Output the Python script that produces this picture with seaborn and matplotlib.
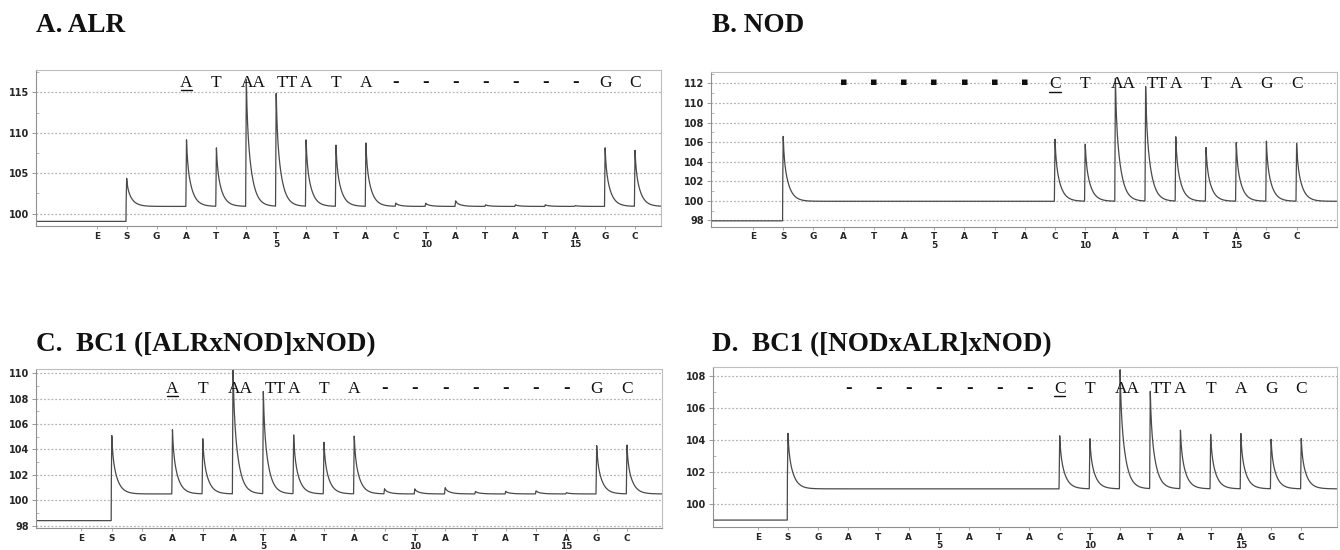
import numpy as np
import pandas as pd
import matplotlib
matplotlib.use("Agg")
import matplotlib.pyplot as plt
import matplotlib.transforms as mtransforms
from matplotlib.ticker import MultipleLocator
import seaborn as sns

# ---------------- data ----------------
dispensation_order = ["E", "S", "G", "A", "T", "A", "T", "A", "T", "A",
                      "C", "T", "A", "T", "A", "T", "A", "G", "C"]
dispensation_numbers = list(range(-1, 18))          # E=-1, S=0, G=1 ... C=17

titles = ["A. ALR", "B. NOD", "C.  BC1 ([ALRxNOD]xNOD)", "D.  BC1 ([NODxALR]xNOD)"]

# signal level before substrate (S) and after it
pre_baseline = [99.05, 97.95, 98.4, 99.0]
post_baseline = [100.9, 99.95, 100.5, 100.95]

# peak tops at dispensations S(0) .. C(17)
peaks_A = [104.4, 100.9, 109.3, 108.3, 117.0, 115.0, 109.1, 108.5, 108.8,
           101.3, 101.3, 101.6, 101.1, 101.1, 101.1, 101.0, 108.2, 107.9]
peaks_B = [106.6, 99.95, 99.95, 99.95, 99.95, 99.95, 99.95, 99.95, 99.95,
           106.4, 105.95, 112.6, 111.9, 106.6, 105.5, 106.1, 106.1, 105.95]
peaks_C = [105.1, 100.5, 105.65, 104.95, 110.6, 108.6, 105.2, 104.65, 105.1,
           100.9, 100.9, 101.0, 100.7, 100.7, 100.75, 100.6, 104.4, 104.35]
peaks_D = [104.5, 100.95, 100.95, 100.95, 100.95, 100.95, 100.95, 100.95, 100.95,
           104.35, 104.1, 108.6, 107.1, 104.65, 104.4, 104.4, 104.1, 104.1]

# sequence read above the peaks, dispensations 2 .. 17
seq_A = ["A", "T", "AA", "TT", "A", "T", "A", "-", "-", "-", "-", "-", "-", "-", "G", "C"]
seq_B = ["▪", "▪", "▪", "▪", "▪", "▪", "▪", "C", "T", "AA", "TT", "A", "T", "A", "G", "C"]
seq_C = ["A", "T", "AA", "TT", "A", "T", "A", "-", "-", "-", "-", "-", "-", "-", "G", "C"]
seq_D = ["-", "-", "-", "-", "-", "-", "-", "C", "T", "AA", "TT", "A", "T", "A", "G", "C"]
underlined = [2, 9, 2, 9]

y_ranges = [(98.48, 117.75), (97.35, 113.2), (97.8, 110.3), (98.55, 108.54)]
y_major = [5, 2, 2, 2]
y_minor = [2.5, 1, 1, 1]
x_ranges = [(-3.03, 17.87), (-2.39, 18.34), (-2.5, 18.16), (-2.48, 18.2)]

# ---------------- style ----------------
sns.set_theme(style="white")
plt.rcParams["font.family"] = ["DejaVu Sans"]

SERIF = ["Liberation Serif", "DejaVu Serif"]
LINE_COL = "#4a4a4a"
GRID_COL = "#b4b4b4"

fig = plt.figure(figsize=(13.4, 5.5), dpi=100)
rects = [[0.0269, 0.5891, 0.4664, 0.2836],
         [0.5306, 0.5878, 0.4672, 0.2818],
         [0.0269, 0.0395, 0.4672, 0.2891],
         [0.5321, 0.0413, 0.4660, 0.2909]]
title_pos = [(0.027, 0.942), (0.531, 0.942), (0.027, 0.362), (0.531, 0.362)]
letter_base = [0.893, 0.893, 0.85, 0.839]

peaks_all = [peaks_A, peaks_B, peaks_C, peaks_D]
seqs = [seq_A, seq_B, seq_C, seq_D]


def peak_shape(dx, rise=0.02):
    out = np.zeros_like(dx)
    r = (dx >= -rise) & (dx < 0)
    out[r] = (dx[r] + rise) / rise
    d = dx >= 0
    out[d] = 0.25 * np.exp(-dx[d] / 0.03) + 0.75 * np.exp(-dx[d] / 0.17)
    return out


xlabels = []
for letter, num in zip(dispensation_order, dispensation_numbers):
    if num > 0 and num % 5 == 0:
        xlabels.append(f"{letter}\n{num}")
    else:
        xlabels.append(letter)

for i in range(4):
    ax = fig.add_axes(rects[i])
    x0, x1 = x_ranges[i]
    x = np.linspace(x0, x1, 7000)
    disp_x = np.array(dispensation_numbers[1:], dtype=float)
    heights = np.array(peaks_all[i])
    b0, b1 = pre_baseline[i], post_baseline[i]
    y = np.where(x < disp_x[0] - 0.02, b0, b1).astype(float)
    for xk, hk in zip(disp_x, heights):
        y = y + (hk - b1) * peak_shape(x - xk)
    df = pd.DataFrame({"dispensation": x, "signal": y})
    sns.lineplot(data=df, x="dispensation", y="signal", ax=ax, color=LINE_COL,
                 linewidth=0.9, estimator=None, sort=False)

    ax.set_xlim(x0, x1)
    ax.set_ylim(*y_ranges[i])
    ax.set_xlabel("")
    ax.set_ylabel("")
    ax.set_xticks(dispensation_numbers)
    ax.set_xticklabels(xlabels, fontsize=6.4, fontweight="bold", linespacing=0.9)
    ax.yaxis.set_major_locator(MultipleLocator(y_major[i]))
    ax.yaxis.set_minor_locator(MultipleLocator(y_minor[i]))
    for lab in ax.get_yticklabels():
        lab.set_fontsize(7)
        lab.set_fontweight("bold")
    ax.tick_params(axis="x", which="major", length=2, width=0.6, color="#999999",
                   pad=2.0, bottom=True)
    ax.tick_params(axis="y", which="major", length=3, width=0.6, color="#888888",
                   pad=2, left=True)
    ax.tick_params(axis="y", which="minor", length=2, width=0.6, color="#aaaaaa",
                   direction="in", left=True)
    ax.grid(True, axis="y", which="major", color=GRID_COL, linestyle=(0, (1.5, 1.5)),
            linewidth=0.9)
    ax.set_axisbelow(True)
    for side, sp in ax.spines.items():
        sp.set_color("#bdbdbd" if side in ("top", "right") else "#909090")
        sp.set_linewidth(0.8)

    # sequence annotation above peaks
    trans = mtransforms.blended_transform_factory(ax.transData, ax.transAxes)
    for xk, s in zip(dispensation_numbers[3:], seqs[i]):
        if s in ("AA", "TT"):
            xpos = xk + (0.25 if s == "AA" else 0.38)
            ax.text(xpos, letter_base[i], s, transform=trans, ha="center",
                    va="baseline", fontsize=12.5, family=SERIF, color="#111111")
        elif s == "-":
            ax.text(xk, letter_base[i], "-", transform=trans, ha="center",
                    va="baseline", fontsize=14, family=SERIF, fontweight="bold",
                    color="#111111")
        elif s == "▪":
            ax.text(xk, letter_base[i] + 0.04, s, transform=trans, ha="center",
                    va="center", fontsize=8, family=["DejaVu Sans"], color="#111111")
        else:
            ax.text(xk, letter_base[i], s, transform=trans, ha="center",
                    va="baseline", fontsize=12.5, family=SERIF, color="#111111")
        if xk == underlined[i]:
            ax.plot([xk - 0.19, xk + 0.19], [letter_base[i] - 0.021] * 2,
                    transform=trans, color="#111111", linewidth=1.0,
                    clip_on=False)

    fig.text(title_pos[i][0], title_pos[i][1], titles[i], fontsize=19.5,
             fontweight="bold", family=SERIF, ha="left", va="baseline",
             color="#111111")

fig.savefig("out.png", dpi=100)
